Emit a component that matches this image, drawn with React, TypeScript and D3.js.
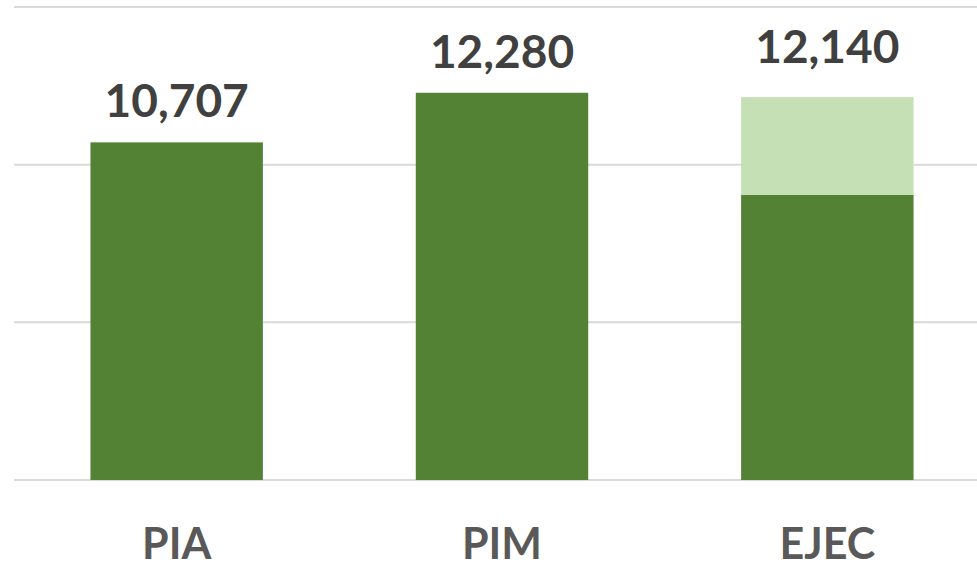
import { useEffect, useRef } from 'react';
import * as d3 from 'd3';

// chart data
const categories = ['PIA', 'PIM', 'EJEC'];
const baseValues = [10707, 12280, 9040];
const extraValues = [0, 0, 3100];
const totalLabels = ['10,707', '12,280', '12,140'];
const yTicks = [0, 5000, 10000, 15000];

const App = () => {
  const svgRef = useRef<SVGSVGElement>(null);

  useEffect(() => {
    const svg = d3.select(svgRef.current);
    svg.selectAll('*').remove();

    const width = 977;
    const height = 569;
    const left = 14;

    const x = d3.scaleBand()
      .domain(categories)
      .range([left, 990])
      .paddingInner(0.47)
      .paddingOuter(0.235);

    const y = d3.scaleLinear()
      .domain([0, 15000])
      .range([480, 7]);

    // gridlines
    svg.append('g')
      .selectAll('line')
      .data(yTicks)
      .join('line')
      .attr('x1', left)
      .attr('x2', width)
      .attr('y1', d => y(d))
      .attr('y2', d => y(d))
      .attr('stroke', '#d9d9d9')
      .attr('stroke-width', 2);

    const rows = categories.map((c, i) => ({
      cat: c,
      base: baseValues[i],
      extra: extraValues[i],
      label: totalLabels[i]
    }));

    // dark part
    svg.append('g')
      .selectAll('rect')
      .data(rows)
      .join('rect')
      .attr('x', d => x(d.cat)!)
      .attr('width', x.bandwidth())
      .attr('y', d => y(d.base))
      .attr('height', d => y(0) - y(d.base))
      .attr('fill', '#548235');

    // light stacked part
    svg.append('g')
      .selectAll('rect')
      .data(rows.filter(d => d.extra > 0))
      .join('rect')
      .attr('x', d => x(d.cat)!)
      .attr('width', x.bandwidth())
      .attr('y', d => y(d.base + d.extra))
      .attr('height', d => y(d.base) - y(d.base + d.extra))
      .attr('fill', '#c5e0b4');

    // value labels
    svg.append('g')
      .selectAll('text')
      .data(rows)
      .join('text')
      .attr('x', d => x(d.cat)! + x.bandwidth() / 2)
      .attr('y', d => y(d.base + d.extra) - (d.extra > 0 ? 34 : 25))
      .attr('text-anchor', 'middle')
      .attr('font-family', 'Lato, "Open Sans", sans-serif')
      .attr('font-weight', 'bold')
      .attr('font-size', 46)
      .attr('fill', '#404040')
      .text(d => d.label);

    // category labels
    svg.append('g')
      .selectAll('text')
      .data(categories)
      .join('text')
      .attr('x', d => x(d)! + x.bandwidth() / 2)
      .attr('y', 559)
      .attr('text-anchor', 'middle')
      .attr('font-family', 'Lato, "Open Sans", sans-serif')
      .attr('font-weight', 'bold')
      .attr('font-size', 43)
      .attr('fill', '#595959')
      .text(d => d);

    svg.attr('width', width).attr('height', height);
  }, []);

  return (
    <svg
      ref={svgRef}
      width={977}
      height={569}
      style={{ position: 'absolute', left: 0, top: 0, background: '#fff' }}
    />
  );
};

export default App;
